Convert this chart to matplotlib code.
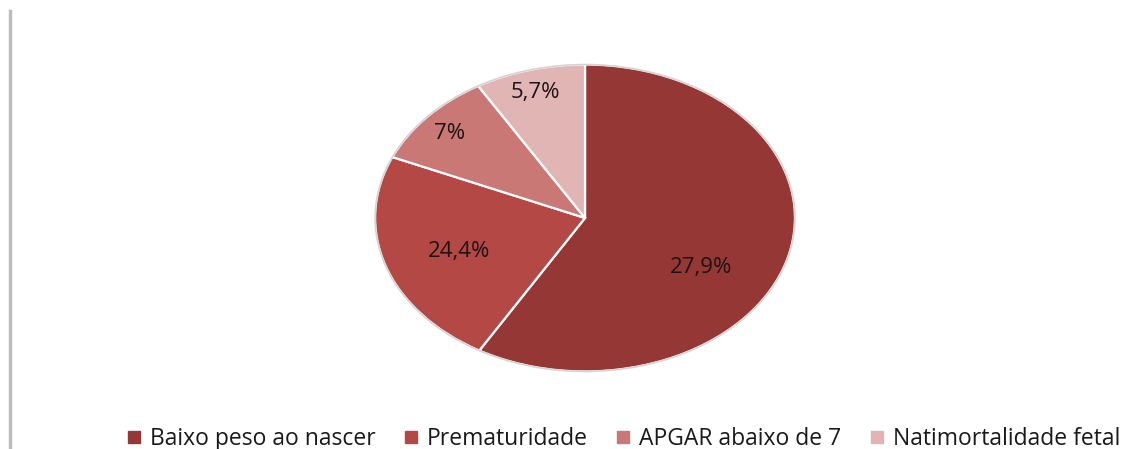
import matplotlib
matplotlib.use("Agg")
import matplotlib.pyplot as plt
import numpy as np
from matplotlib.lines import Line2D
from matplotlib.patches import Circle

plt.rcParams['font.family'] = ['Open Sans', 'DejaVu Sans']

# Categories and the values printed on the slices
categories = ['Baixo peso ao nascer', 'Prematuridade', 'APGAR abaixo de 7', 'Natimortalidade fetal']
value_labels = ['27,9%', '24,4%', '7%', '5,7%']
# slice sizes as drawn in the original (they do not follow the printed labels)
shares = [58.4, 23.1, 10.0, 8.5]
colors = ['#953735', '#B34845', '#C97876', '#E0B5B4']

# where each label sits inside its slice
label_r = [0.64, 0.64, 0.85, 0.85]
label_shift = [-15, 2, 1, 1]  # degrees from the slice middle

fig = plt.figure(figsize=(11.47, 4.49), dpi=100)
ax = fig.add_axes([0.3252, 0.1693, 0.3697, 0.6904])

wedges, _ = ax.pie(shares, colors=colors, startangle=90, counterclock=False,
                   wedgeprops=dict(edgecolor='white', linewidth=1.6))
ax.add_patch(Circle((0, 0), 1.0, fill=False, edgecolor='#d4d4d4', linewidth=1.2))

for w, txt, r, sh in zip(wedges, value_labels, label_r, label_shift):
    mid = np.deg2rad((w.theta1 + w.theta2) / 2 + sh)
    ax.text(r * np.cos(mid), r * np.sin(mid), txt, ha='center', va='center',
            fontsize=16, color='#1c1414')

ax.set_aspect('auto')
ax.set_xlim(-1.01, 1.01)
ax.set_ylim(-1.01, 1.01)
ax.axis('off')

handles = [Line2D([], [], marker='s', linestyle='none', markersize=8.5,
                  markerfacecolor=c, markeredgecolor=c) for c in colors]
fig.legend(handles, categories, loc='center', bbox_to_anchor=(0.5427, 0.022),
           ncol=4, frameon=False, fontsize=16.5, handletextpad=0.3,
           columnspacing=1.15, handlelength=0.8, labelcolor='#1a1a1a')

# thin grey rule on the left edge
fig.add_artist(Line2D([0.0085, 0.0085], [0.004, 0.976], color='#bdbdbd', linewidth=2.5))

fig.savefig('out.png', dpi=100)
